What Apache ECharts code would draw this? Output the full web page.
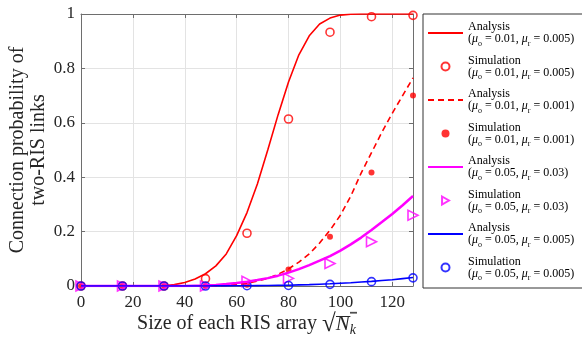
<!DOCTYPE html>
<html>
<head>
<meta charset="utf-8">
<script src="https://cdn.jsdelivr.net/npm/echarts@6/dist/echarts.min.js"></script>
<style>html,body{margin:0;padding:0;background:#fff;}#c{width:582px;height:337px;}</style>
</head>
<body>
<div id="c"></div>
<script>
// ---- data ----
const xAnalysis = [0,4,8,12,16,20,24,28,32,36,40,44,48,52,56,60,64,68,72,76,80,84,88,92,96,100,104,108,112,116,120,124,128];
const xSim = [0,16,32,48,64,80,96,112,128];

const anaA = [0,0,0,0,0,0,0,0,0.001,0.005,0.013,0.026,0.045,0.074,0.118,0.185,0.27,0.375,0.50,0.63,0.75,0.85,0.92,0.963,0.985,0.996,0.999,1,1,1,1,1,1];
const simA = [0,0,0,0.027,0.194,0.614,0.933,0.99,0.995];

const anaB = [0,0,0,0,0,0,0,0,0,0,0,0,0,0,0.002,0.005,0.01,0.018,0.028,0.043,0.063,0.088,0.118,0.158,0.205,0.26,0.33,0.415,0.49,0.565,0.635,0.70,0.765];
const simB = [0,0,0,0,0.005,0.061,0.181,0.417,0.70];

const anaC = [0,0,0,0,0,0,0,0,0,0,0,0.001,0.002,0.004,0.007,0.011,0.016,0.022,0.029,0.038,0.049,0.062,0.077,0.093,0.11,0.13,0.153,0.178,0.206,0.235,0.265,0.297,0.331];
const simC = [0,0,0,0,0.017,0.028,0.083,0.163,0.26];

const anaD = [0,0,0,0,0,0,0,0,0,0,0,0,0,0.0003,0.0005,0.0008,0.001,0.0015,0.002,0.0025,0.003,0.004,0.005,0.0065,0.008,0.01,0.012,0.0145,0.017,0.02,0.023,0.027,0.031];
const simD = [0,0,0,0,0.001,0.002,0.006,0.016,0.03];

const xTicks = [0,20,40,60,80,100,120];
const yTicks = [0,0.2,0.4,0.6,0.8,1];

const seriesNames = [
  'Analysis|0.01|0.005', 'Simulation|0.01|0.005',
  'Analysis|0.01|0.001', 'Simulation|0.01|0.001',
  'Analysis|0.05|0.03',  'Simulation|0.05|0.03',
  'Analysis|0.05|0.005', 'Simulation|0.05|0.005'
];

const FONT = 'Liberation Serif';
const AX = '#6e6e6e';
const TXT = '#262626';
const pair = (xs, ys) => xs.map((x, i) => [x, ys[i]]);

// small image used as an overline (top edge) behind the radicand
const ovl = document.createElement('canvas');
ovl.width = 4; ovl.height = 24;
(function(){ const g = ovl.getContext('2d'); g.fillStyle = TXT; g.fillRect(0, 4, 4, 1); })();

const chart = echarts.init(document.getElementById('c'), null, {renderer: 'canvas'});

const lineSeries = (name, data, color, width, type) => ({
  name, type: 'line', data, symbol: 'none', silent: true,
  lineStyle: {color, width, type: type || 'solid'},
  itemStyle: {color: 'rgba(0,0,0,0)', borderColor: 'rgba(0,0,0,0)'}
});
const simSeries = (name, data, color, symbol, size, open, rotate) => ({
  name, type: 'scatter', data, symbol, symbolSize: size, symbolRotate: rotate || 0, silent: true,
  itemStyle: open ? {color: 'rgba(255,255,255,0)', borderColor: color, borderWidth: 1.6}
                  : {color: color}
});

const legendData = seriesNames.map((n, i) =>
  i === 5 ? {name: n, icon: 'path://M0,0L8.66,5L0,10Z'} : {name: n});

const option = {
  animation: false,
  backgroundColor: '#fff',
  grid: {left: 81, right: 169, top: 14, bottom: 51, containLabel: false, outerBoundsMode: 'none'},
  xAxis: [{
    type: 'value', min: 0, max: 128, interval: 20,
    name: 'Size of each RIS array {sq|√}{it|N}{sub|k}',
    nameLocation: 'middle', nameGap: 26, nameMoveOverlap: false,
    nameTextStyle: {fontFamily: FONT, fontSize: 20, color: TXT,
      rich: {
        sq: {fontFamily: FONT, fontSize: 25, color: TXT, height: 24, lineHeight: 24},
        it: {fontFamily: FONT, fontSize: 21, fontStyle: 'italic', color: TXT, height: 24, lineHeight: 24,
             backgroundColor: {image: ovl}},
        sub: {fontFamily: FONT, fontSize: 14, fontStyle: 'italic', color: TXT, height: 24, lineHeight: 24,
              padding: [12, 1, 0, 0], backgroundColor: {image: ovl}}
      }},
    axisLine: {show: true, lineStyle: {color: AX, width: 1}},
    axisTick: {show: true, inside: true, length: 4, lineStyle: {color: AX}},
    axisLabel: {fontFamily: FONT, fontSize: 17, color: TXT, margin: 8, showMaxLabel: false,
      formatter: v => xTicks.includes(v) ? String(v) : ''},
    splitLine: {show: true, lineStyle: {color: '#e3e3e3', width: 1}}
  }, {
    type: 'value', min: 0, max: 128, interval: 20, position: 'top',
    axisLine: {show: true, onZero: false, lineStyle: {color: AX, width: 1}},
    axisTick: {show: true, inside: true, length: 4, lineStyle: {color: AX}},
    axisLabel: {show: false}, splitLine: {show: false}
  }],
  yAxis: [{
    type: 'value', min: 0, max: 1, interval: 0.2,
    name: 'Connection probability of\ntwo-RIS links',
    nameLocation: 'middle', nameGap: 32, nameMoveOverlap: false,
    nameTextStyle: {fontFamily: FONT, fontSize: 20, color: TXT, lineHeight: 21},
    axisLine: {show: true, lineStyle: {color: AX, width: 1}},
    axisTick: {show: true, inside: true, length: 4, lineStyle: {color: AX}},
    axisLabel: {fontFamily: FONT, fontSize: 17, color: TXT, margin: 6,
      formatter: v => { const t = yTicks.find(y => Math.abs(y - v) < 1e-9); return t === undefined ? '' : String(t); }},
    splitLine: {show: true, lineStyle: {color: '#e3e3e3', width: 1}}
  }, {
    type: 'value', min: 0, max: 1, interval: 0.2, position: 'right',
    axisLine: {show: true, onZero: false, lineStyle: {color: AX, width: 1}},
    axisTick: {show: true, inside: true, length: 4, lineStyle: {color: AX}},
    axisLabel: {show: false}, splitLine: {show: false}
  }],
  legend: {
    orient: 'vertical', left: 423, top: 14,
    padding: [7, 10, 6, 4],
    itemWidth: 35, itemHeight: 8, itemGap: 7,
    backgroundColor: '#fff', borderColor: '#333', borderWidth: 1, borderRadius: 0,
    selectedMode: false,
    data: legendData,
    formatter: name => {
      const p = name.split('|');
      return p[0] + '\n({mu|μ}{sub|o} = ' + p[1] + ', {mu|μ}{sub|r} = ' + p[2] + ')';
    },
    textStyle: {fontFamily: FONT, fontSize: 12, color: '#000', lineHeight: 12,
      rich: {
        mu: {fontFamily: FONT, fontSize: 12, fontStyle: 'italic', color: '#000', lineHeight: 12},
        sub: {fontFamily: FONT, fontSize: 8, color: '#000', padding: [9,0,0,0], lineHeight: 12}
      }}
  },
  series: [
    lineSeries(seriesNames[0], pair(xAnalysis, anaA), '#ff0000', 1.6),
    simSeries(seriesNames[1], pair(xSim, simA), '#ff0000', 'circle', 8, true),
    lineSeries(seriesNames[2], pair(xAnalysis, anaB), '#ff0000', 1.6, [6, 4]),
    simSeries(seriesNames[3], pair(xSim, simB), '#ff0000', 'circle', 6, false),
    lineSeries(seriesNames[4], pair(xAnalysis, anaC), '#ff00ff', 2.5),
    simSeries(seriesNames[5], pair(xSim, simC), '#ff00ff', 'triangle', 10, true, -90),
    lineSeries(seriesNames[6], pair(xAnalysis, anaD), '#0000ff', 1.6),
    simSeries(seriesNames[7], pair(xSim, simD), '#0000ff', 'circle', 8, true)
  ]
};
chart.setOption(option);
</script>
</body>
</html>
